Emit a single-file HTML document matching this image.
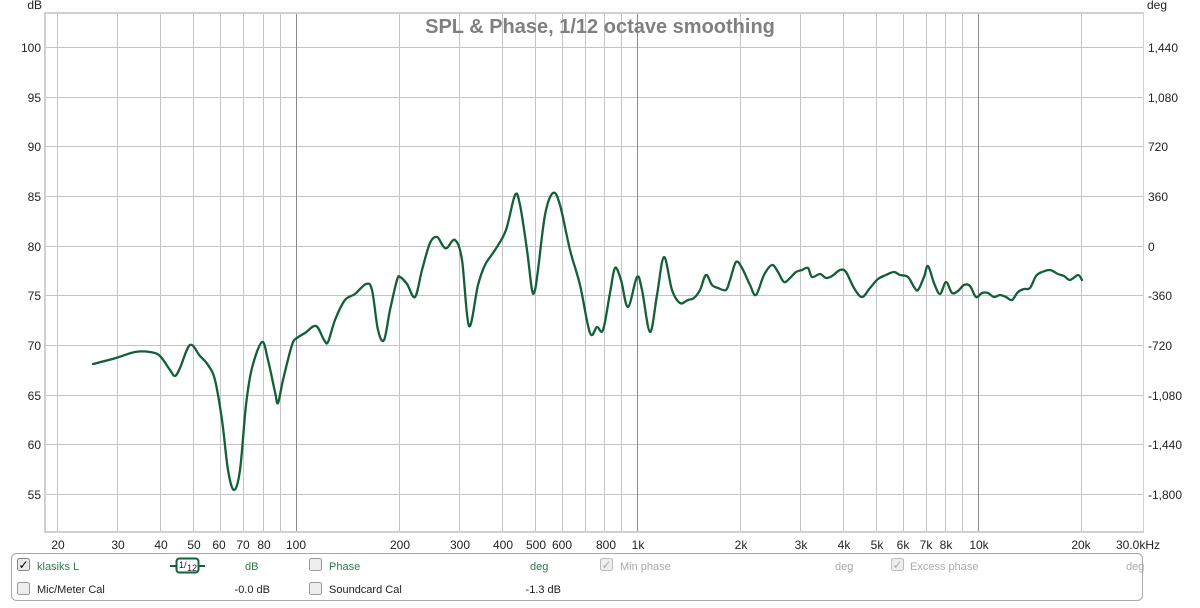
<!DOCTYPE html>
<html><head><meta charset="utf-8"><style>
body{margin:0;background:#fff;width:1200px;height:603px;overflow:hidden;font-family:"Liberation Sans",sans-serif}
svg text{font-family:"Liberation Sans",sans-serif}
</style></head><body>
<svg id="s" width="1200" height="603" viewBox="0 0 1200 603">
<rect x="44" y="12" width="1100" height="521" fill="#d0d0d0"/>
<rect x="46" y="14" width="1097" height="517" fill="#fff"/>
<g stroke="#c4c4c4" stroke-width="1">
<line x1="57.5" y1="14" x2="57.5" y2="531"/><line x1="117.5" y1="14" x2="117.5" y2="531"/><line x1="160.5" y1="14" x2="160.5" y2="531"/><line x1="193.5" y1="14" x2="193.5" y2="531"/><line x1="220.5" y1="14" x2="220.5" y2="531"/><line x1="243.5" y1="14" x2="243.5" y2="531"/><line x1="263.5" y1="14" x2="263.5" y2="531"/><line x1="280.5" y1="14" x2="280.5" y2="531"/>
<line x1="399.5" y1="14" x2="399.5" y2="531"/><line x1="459.5" y1="14" x2="459.5" y2="531"/><line x1="502.5" y1="14" x2="502.5" y2="531"/><line x1="535.5" y1="14" x2="535.5" y2="531"/><line x1="562.5" y1="14" x2="562.5" y2="531"/><line x1="585.5" y1="14" x2="585.5" y2="531"/><line x1="604.5" y1="14" x2="604.5" y2="531"/><line x1="621.5" y1="14" x2="621.5" y2="531"/>
<line x1="740.5" y1="14" x2="740.5" y2="531"/><line x1="800.5" y1="14" x2="800.5" y2="531"/><line x1="843.5" y1="14" x2="843.5" y2="531"/><line x1="876.5" y1="14" x2="876.5" y2="531"/><line x1="903.5" y1="14" x2="903.5" y2="531"/><line x1="926.5" y1="14" x2="926.5" y2="531"/><line x1="945.5" y1="14" x2="945.5" y2="531"/><line x1="962.5" y1="14" x2="962.5" y2="531"/>
<line x1="1081.5" y1="14" x2="1081.5" y2="531"/>
<line x1="46" y1="47.5" x2="1143" y2="47.5"/><line x1="46" y1="97.5" x2="1143" y2="97.5"/><line x1="46" y1="146.5" x2="1143" y2="146.5"/><line x1="46" y1="196.5" x2="1143" y2="196.5"/><line x1="46" y1="246.5" x2="1143" y2="246.5"/><line x1="46" y1="295.5" x2="1143" y2="295.5"/><line x1="46" y1="345.5" x2="1143" y2="345.5"/><line x1="46" y1="395.5" x2="1143" y2="395.5"/><line x1="46" y1="444.5" x2="1143" y2="444.5"/><line x1="46" y1="494.5" x2="1143" y2="494.5"/>
</g>
<g stroke="#8a8a8a"><line x1="296.5" y1="14" x2="296.5" y2="531"/><line x1="637.5" y1="14" x2="637.5" y2="531"/><line x1="978.5" y1="14" x2="978.5" y2="531"/></g>
<text x="600" y="33" text-anchor="middle" font-size="20" font-weight="bold" fill="#808080">SPL &amp; Phase, 1/12 octave smoothing</text>
<g font-size="12" fill="#222" text-anchor="end">
<text x="42" y="9">dB</text>
<text x="41" y="52">100</text><text x="41" y="102">95</text><text x="41" y="151">90</text><text x="41" y="201">85</text><text x="41" y="251">80</text><text x="41" y="300">75</text><text x="41" y="350">70</text><text x="41" y="400">65</text><text x="41" y="449">60</text><text x="41" y="499">55</text>
</g>
<g font-size="12" fill="#222" text-anchor="start">
<text x="1147" y="9">deg</text>
<text x="1148" y="52">1,440</text><text x="1148" y="102">1,080</text><text x="1148" y="151">720</text><text x="1148" y="201">360</text><text x="1148" y="251">0</text><text x="1148" y="300">-360</text><text x="1148" y="350">-720</text><text x="1148" y="400">-1,080</text><text x="1148" y="449">-1,440</text><text x="1148" y="499">-1,800</text>
</g>
<g font-size="12" fill="#222" text-anchor="middle">
<text x="58" y="549">20</text><text x="118" y="549">30</text><text x="161" y="549">40</text><text x="194" y="549">50</text><text x="219" y="549">60</text><text x="243" y="549">70</text><text x="264" y="549">80</text><text x="296" y="549">100</text>
<text x="400" y="549">200</text><text x="460" y="549">300</text><text x="503" y="549">400</text><text x="536" y="549">500</text><text x="562" y="549">600</text><text x="606" y="549">800</text><text x="638" y="549">1k</text>
<text x="741" y="549">2k</text><text x="801" y="549">3k</text><text x="844" y="549">4k</text><text x="877" y="549">5k</text><text x="903" y="549">6k</text><text x="926" y="549">7k</text><text x="946" y="549">8k</text><text x="979" y="549">10k</text>
<text x="1081" y="549">20k</text><text x="1138" y="549">30.0kHz</text>
</g>
<polyline id="pl" fill="none" stroke="#135f37" stroke-width="2.2" stroke-linejoin="round" stroke-linecap="round" points="93,364 116,358 135,352 150,352 160,356 170,370 175,376 180,368 190,345 200,356 208,365 215,380 222,420 228,470 234,490 240,470 246,405 252,368 262,342 268,360 275,392 278,403 283,380 292,345 297,338 305,333 316,326 324,340 328,342 335,320 345,300 355,294 366,284 372,290 378,330 384,340 390,310 397,280 400,277 407,284 415,297 422,270 430,243 437,237 443,246 447,248 455,240 462,260 469,326 478,285 485,265 495,250 506,230 515,195 520,205 527,250 532,290 535,290 538,270 545,215 553,193 560,205 570,250 580,285 590,333 597,327 603,330 610,293 615,268 621,280 628,307 637,277 642,290 650,332 657,295 664,257 672,290 680,303 688,300 694,298 700,290 706,275 712,285 718,288 726,290 730,280 736,262 742,268 750,285 756,295 764,275 772,265 778,272 784,282 790,278 796,272 802,270 808,268 812,277 820,274 826,278 832,276 840,270 846,272 854,288 862,297 870,288 878,279 886,275 894,272 900,275 908,277 914,287 918,290 924,277 928,266 934,283 940,294 946,282 952,293 958,291 964,285 970,286 976,297 982,293 988,293 994,297 1000,295 1006,297 1012,300 1018,292 1024,289 1030,288 1036,276 1042,272 1050,270 1058,274 1064,276 1070,280 1078,275 1082,280"/>
<path id="sm" fill="none" stroke="#135f37" stroke-width="2.3" stroke-linejoin="round" stroke-linecap="round" d=""/>
<rect x="11.5" y="553.5" width="1131" height="47" rx="5" fill="#fff" stroke="#a8a8a8"/>
<g font-size="11">
<rect x="17.5" y="558.5" width="12" height="12" rx="2" fill="#e8e8e8" stroke="#888"/><text x="18.5" y="569" font-size="12">✓</text>
<text x="37" y="570" fill="#2a7a4a">klasiks L</text>
<rect x="176.5" y="558.5" width="22" height="14" rx="3" fill="#fff" stroke="#135f37" stroke-width="2"/><line x1="170" y1="566" x2="176" y2="566" stroke="#135f37" stroke-width="2"/><line x1="199" y1="566" x2="205" y2="566" stroke="#135f37" stroke-width="2"/><text x="179" y="568" fill="#222" font-size="9">1/</text><text x="187" y="571" fill="#222" font-size="9">12</text>
<text x="245" y="570" fill="#2a7a4a">dB</text>
<rect x="309.5" y="558.5" width="12" height="12" rx="2" fill="#eee" stroke="#999"/><text x="329" y="570" fill="#2a7a4a">Phase</text>
<text x="530" y="570" fill="#2a7a4a">deg</text>
<rect x="600.5" y="558.5" width="12" height="12" rx="2" fill="#eee" stroke="#bbb"/><text x="601.5" y="569" fill="#aaa" font-size="12">✓</text><text x="620" y="570" fill="#aaa">Min phase</text>
<text x="835" y="570" fill="#aaa">deg</text>
<rect x="891.5" y="558.5" width="12" height="12" rx="2" fill="#eee" stroke="#bbb"/><text x="892.5" y="569" fill="#aaa" font-size="12">✓</text><text x="910" y="570" fill="#aaa">Excess phase</text>
<text x="1126" y="570" fill="#aaa">deg</text>
<rect x="17.5" y="582.5" width="12" height="12" rx="2" fill="#eee" stroke="#999"/><text x="37" y="593" fill="#222">Mic/Meter Cal</text>
<text x="270" y="593" fill="#222" text-anchor="end">-0.0 dB</text>
<rect x="309.5" y="582.5" width="12" height="12" rx="2" fill="#eee" stroke="#999"/><text x="329" y="593" fill="#222">Soundcard Cal</text>
<text x="561" y="593" fill="#222" text-anchor="end">-1.3 dB</text>
</g>
</svg>
<script>
(function(){
var pl=document.getElementById('pl');
var p=pl.getAttribute('points').trim().split(/\s+/).map(function(s){return s.split(',').map(Number);});
var d='M'+p[0][0]+','+p[0][1];
for(var i=0;i<p.length-1;i++){
var a=p[i-1]||p[i],b=p[i],c=p[i+1],e=p[i+2]||c;
var c1x=b[0]+(c[0]-a[0])/6,c1y=b[1]+(c[1]-a[1])/6,c2x=c[0]-(e[0]-b[0])/6,c2y=c[1]-(e[1]-b[1])/6;
d+=' C'+c1x.toFixed(1)+','+c1y.toFixed(1)+' '+c2x.toFixed(1)+','+c2y.toFixed(1)+' '+c[0]+','+c[1];
}
document.getElementById('sm').setAttribute('d',d);
pl.style.display='none';
})();
</script>
</body></html>
